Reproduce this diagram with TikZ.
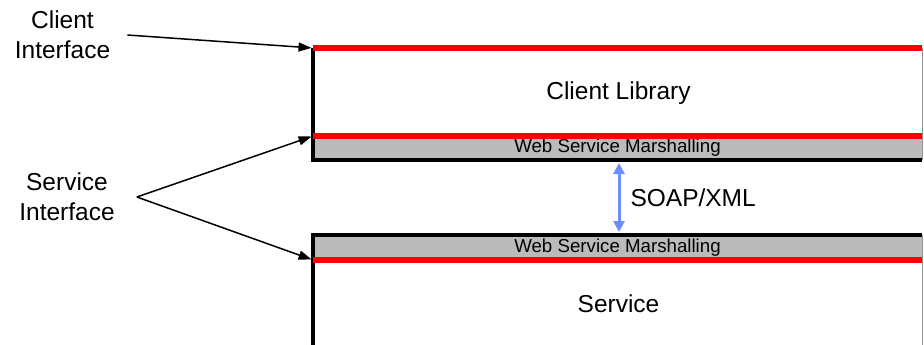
\documentclass[tikz,border=0pt]{standalone}
\usepackage{fontspec}
\setmainfont{Liberation Sans}
\usetikzlibrary{arrows.meta}
\definecolor{bandgray}{RGB}{187,187,187}
\definecolor{soapblue}{RGB}{110,140,255}
\definecolor{edgegray}{RGB}{150,150,150}

\begin{document}
\begin{tikzpicture}[x=1pt,y=-1pt,
  box/.style={rectangle, inner sep=0pt, outer sep=0pt, minimum width=609pt, fill=white},
  band/.style={rectangle, inner sep=0pt, outer sep=0pt, minimum width=609pt, fill=bandgray, font=\fontsize{18.7}{20}\selectfont},
  redline/.style={red, line width=5.5pt},
  blackline/.style={black, line width=3.5pt},
  sideline/.style={edgegray, line width=1pt},
  lbl/.style={text=black, font=\fontsize{24.5}{30}\selectfont, align=center, inner sep=0pt},
  pointer/.style={line width=1.5pt, -{Triangle[length=13pt,width=9pt]}, shorten >=1.5pt},
  soap/.style={soapblue, line width=3pt, {Triangle[length=11pt,width=11pt]}-{Triangle[length=11pt,width=11pt]}, shorten <=3pt, shorten >=3pt}
]
\useasboundingbox (0,0) rectangle (924,345);

% client side: library box with its marshalling band
\node[box, minimum height=112pt] (clientbox) at (617.5,104) {};
\node[band, minimum height=24pt] (topmarsh) at (617.5,148) {Web Service Marshalling};
\node[lbl] (clientlib) at (618.5,93) {Client Library};

% service side: marshalling band above the service box
\node[box, minimum height=110pt] (svcbox) at (617.5,290) {};
\node[band, minimum height=25pt] (botmarsh) at (617.5,247.5) {Web Service Marshalling};
\node[lbl] (svc) at (618.5,304) {Service};

% box outlines
\draw[sideline] (clientbox.north east) -- (clientbox.south east);
\draw[sideline] (svcbox.north east) -- (svcbox.south east);
\draw[blackline] (clientbox.north west) -- (clientbox.south west) -- (clientbox.south east);
\draw[blackline] (svcbox.south west) -- (svcbox.north west) -- (svcbox.north east);

% interface lines
\draw[redline] (clientbox.north west) -- (clientbox.north east);
\draw[redline] (topmarsh.north west) -- (topmarsh.north east);
\draw[redline] (botmarsh.south west) -- (botmarsh.south east);

% wire protocol
\draw[soap] ([xshift=1.5pt]topmarsh.south) -- ([xshift=1.5pt]botmarsh.north)
  node[midway, right=10pt, lbl] (soaplbl) {SOAP/XML};

% callouts
\node[lbl] (clientlbl) at (62.5,35) {Client\\Interface};
\node[lbl] (svclbl) at (67,197) {Service\\Interface};
\coordinate (svcpt) at ([xshift=22pt]svclbl.east);

\draw[pointer] ([xshift=17pt]clientlbl.east) -- (clientbox.north west);
\draw[pointer] (svcpt) -- (topmarsh.north west);
\draw[pointer] (svcpt) -- (botmarsh.south west);
\end{tikzpicture}
\end{document}
